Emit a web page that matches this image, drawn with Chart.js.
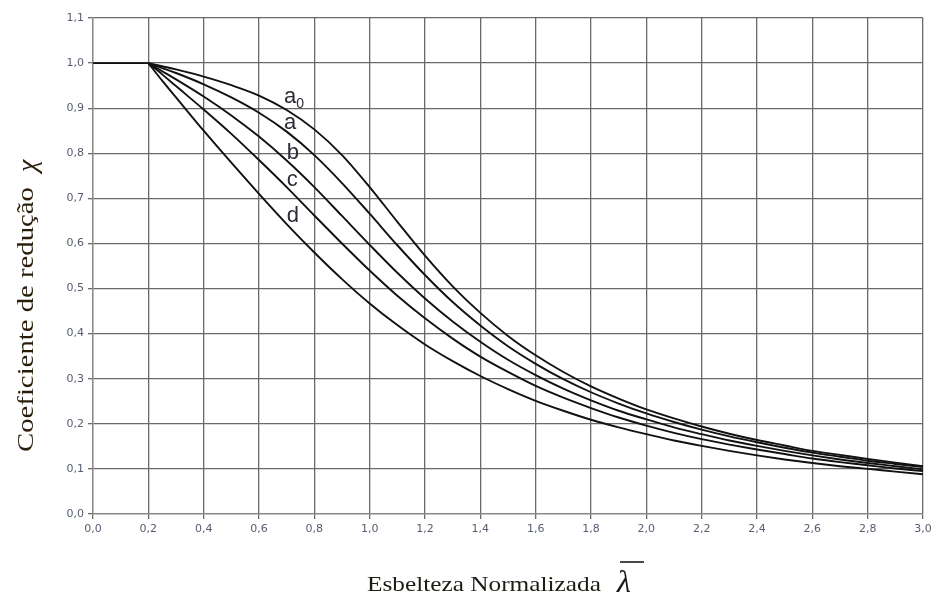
<!DOCTYPE html>
<html>
<head>
<meta charset="utf-8">
<script src="https://cdn.jsdelivr.net/npm/chart.js@4.4.1/dist/chart.umd.min.js"></script>
<style>
  html, body { margin: 0; padding: 0; background: #fff; }
  #wrap { width: 936px; height: 598px; }
</style>
</head>
<body>
<div id="wrap"><canvas id="grafico"></canvas></div>
<script>
// Patamar inicial (χ = 1 até λ = 0,2)
const patamarX = [0.0, 0.2];
const patamarY = [1.0, 1.0];

// Esbelteza normalizada (eixo x) para as curvas
const lambdas = [0.2, 0.25, 0.3, 0.4, 0.5, 0.6, 0.7, 0.8, 0.9, 1.0, 1.1, 1.2, 1.3, 1.4, 1.5,
  1.6, 1.7, 1.8, 1.9, 2.0, 2.1, 2.2, 2.3, 2.4, 2.5, 2.6, 2.7, 2.8, 2.9, 3.0];

// Coeficiente de redução por curva
const curvaA0 = [1.0, 0.993, 0.986, 0.970, 0.951, 0.928, 0.896, 0.853, 0.796, 0.725, 0.648, 0.573, 0.505, 0.446, 0.395,
  0.352, 0.315, 0.283, 0.256, 0.232, 0.212, 0.194, 0.178, 0.164, 0.152, 0.140, 0.131, 0.122, 0.114, 0.106];
const curvaA = [1.0, 0.989, 0.978, 0.953, 0.924, 0.890, 0.848, 0.796, 0.734, 0.666, 0.596, 0.530, 0.470, 0.418, 0.372,
  0.333, 0.299, 0.270, 0.245, 0.223, 0.204, 0.187, 0.172, 0.159, 0.147, 0.136, 0.127, 0.118, 0.111, 0.104];
const curvaB = [1.0, 0.982, 0.964, 0.926, 0.884, 0.837, 0.784, 0.725, 0.661, 0.597, 0.535, 0.478, 0.427, 0.382, 0.342,
  0.308, 0.278, 0.252, 0.229, 0.210, 0.192, 0.177, 0.163, 0.151, 0.140, 0.130, 0.121, 0.113, 0.106, 0.099];
const curvaC = [1.0, 0.975, 0.949, 0.897, 0.843, 0.785, 0.725, 0.662, 0.600, 0.540, 0.484, 0.434, 0.389, 0.349, 0.315,
  0.284, 0.258, 0.235, 0.214, 0.196, 0.180, 0.166, 0.154, 0.143, 0.133, 0.123, 0.115, 0.108, 0.101, 0.095];
const curvaD = [1.0, 0.961, 0.924, 0.850, 0.779, 0.710, 0.643, 0.580, 0.521, 0.467, 0.419, 0.376, 0.339, 0.306, 0.277,
  0.251, 0.229, 0.209, 0.192, 0.177, 0.163, 0.151, 0.140, 0.130, 0.121, 0.113, 0.106, 0.100, 0.094, 0.088];

// Rótulos das curvas: texto, índice, posição (λ, χ)
const rotulos = [
  { texto: 'a', sub: '0', x: 0.69, y: 0.93 },
  { texto: 'a', sub: '', x: 0.69, y: 0.872 },
  { texto: 'b', sub: '', x: 0.70, y: 0.806 },
  { texto: 'c', sub: '', x: 0.70, y: 0.745 },
  { texto: 'd', sub: '', x: 0.70, y: 0.666 }
];

const ticksX = [0, 0.2, 0.4, 0.6, 0.8, 1.0, 1.2, 1.4, 1.6, 1.8, 2.0, 2.2, 2.4, 2.6, 2.8, 3.0];

const tituloX = 'Esbelteza Normalizada';
const tituloY = 'Coeficiente de redução';

function serie(xs, valores) {
  return {
    data: xs.map((l, i) => ({ x: l, y: valores[i] })),
    borderColor: '#111',
    borderWidth: 1.9,
    pointRadius: 0,
    fill: false,
    cubicInterpolationMode: 'monotone'
  };
}

const corGrade = '#6a6a6a';
const corTick = '#555d70';
const fonteSerif = '"Liberation Serif", "Times New Roman", serif';
const fonteSans = '"Liberation Sans", Arial, sans-serif';

// Plugin para os nomes das curvas e os títulos dos eixos (texto um pouco esticado como no original)
const pluginRotulos = {
  id: 'rotulos',
  afterDatasetsDraw(chart) {
    const ctx = chart.ctx;
    const sx = chart.scales.x, sy = chart.scales.y;
    ctx.save();
    ctx.fillStyle = '#2a2c38';
    ctx.textBaseline = 'alphabetic';
    ctx.textAlign = 'left';
    rotulos.forEach(r => {
      const px = sx.getPixelForValue(r.x);
      const py = sy.getPixelForValue(r.y);
      ctx.font = '22px ' + fonteSans;
      ctx.fillText(r.texto, px, py + 8);
      if (r.sub) {
        const w = ctx.measureText(r.texto).width;
        ctx.font = '14px ' + fonteSans;
        ctx.fillText(r.sub, px + w, py + 13);
      }
    });
    ctx.restore();

    // título do eixo x
    ctx.save();
    ctx.fillStyle = '#1e1a14';
    ctx.font = '22px ' + fonteSerif;
    ctx.translate(367, 591);
    ctx.scale(1.15, 1);
    ctx.fillText(tituloX, 0, 0);
    ctx.restore();
    // lambda com barra
    ctx.save();
    ctx.fillStyle = '#1e1a14';
    ctx.strokeStyle = '#1e1a14';
    ctx.font = 'italic 32px ' + fonteSerif;
    ctx.fillText('λ', 617, 592);
    ctx.lineWidth = 1.6;
    ctx.beginPath();
    ctx.moveTo(620, 562);
    ctx.lineTo(644, 562);
    ctx.stroke();
    ctx.restore();

    // título do eixo y
    ctx.save();
    ctx.fillStyle = '#2a1e0a';
    ctx.font = '23px ' + fonteSerif;
    ctx.translate(33, 452);
    ctx.rotate(-Math.PI / 2);
    ctx.scale(1.25, 1);
    ctx.fillText(tituloY, 0, 0);
    ctx.restore();
    ctx.save();
    ctx.fillStyle = '#2a1e0a';
    ctx.font = 'italic 28px ' + fonteSerif;
    ctx.translate(36, 172);
    ctx.rotate(-Math.PI / 2);
    ctx.fillText('χ', 0, 0);
    ctx.restore();
  }
};

const ctx = document.getElementById('grafico').getContext('2d');
new Chart(ctx, {
  type: 'line',
  data: {
    datasets: [serie(patamarX, patamarY), serie(lambdas, curvaA0), serie(lambdas, curvaA),
      serie(lambdas, curvaB), serie(lambdas, curvaC), serie(lambdas, curvaD)]
  },
  options: {
    responsive: true,
    maintainAspectRatio: false,
    animation: false,
    layout: { padding: { left: 0, right: 13, top: 18, bottom: 0 } },
    plugins: { legend: { display: false }, tooltip: { enabled: false } },
    scales: {
      x: {
        type: 'linear',
        min: 0,
        max: 3,
        afterBuildTicks(scale) { scale.ticks = ticksX.map(v => ({ value: v })); },
        afterFit(scale) { scale.height = 84; },
        grid: { color: corGrade, lineWidth: 1.3, tickLength: 5, drawTicks: true },
        border: { color: '#888', width: 1.3 },
        ticks: {
          color: corTick,
          font: { family: '"DejaVu Sans", Verdana, sans-serif', size: 11 },
          padding: 4,
          maxRotation: 0,
          callback: v => v.toFixed(1).replace('.', ',')
        }
      },
      y: {
        min: 0,
        max: 1.1,
        afterFit(scale) { scale.width = 93; },
        grid: { color: corGrade, lineWidth: 1.3, tickLength: 5 },
        border: { color: '#888', width: 1.3 },
        ticks: {
          stepSize: 0.1,
          color: corTick,
          font: { family: '"DejaVu Sans", Verdana, sans-serif', size: 11 },
          padding: 4,
          callback: v => v.toFixed(1).replace('.', ',')
        }
      }
    }
  },
  plugins: [pluginRotulos]
});
</script>
</body>
</html>
